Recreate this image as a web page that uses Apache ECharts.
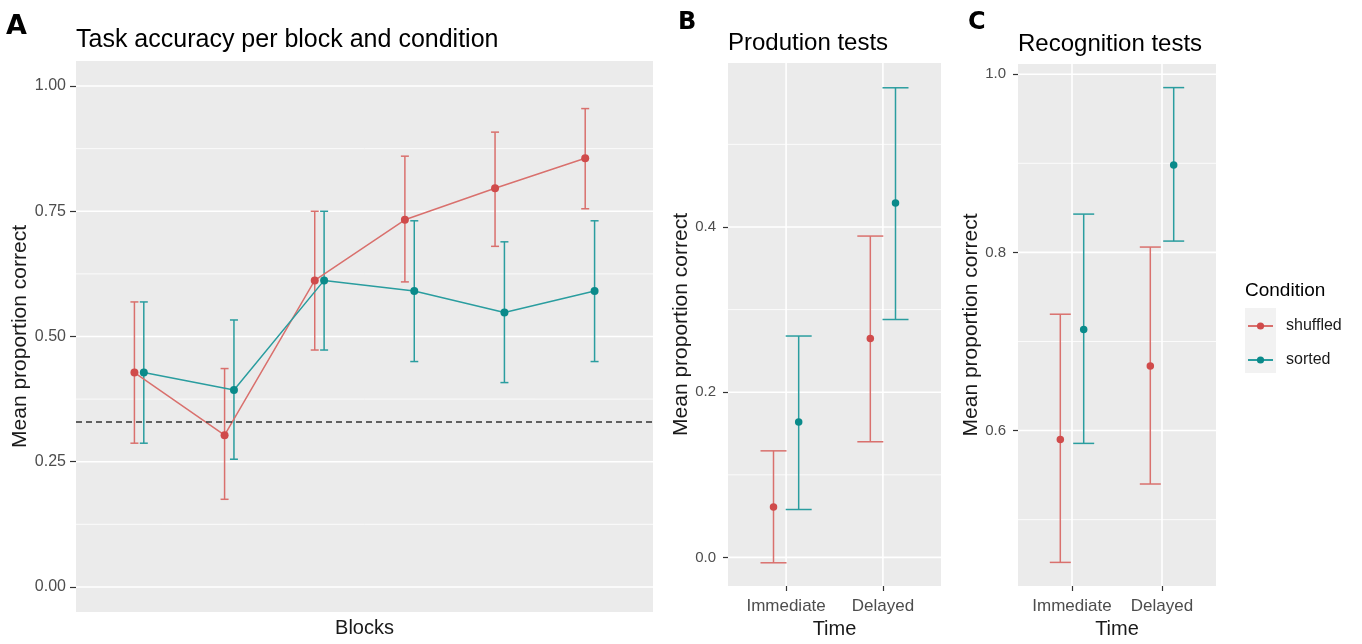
<!DOCTYPE html>
<html>
<head>
<meta charset="utf-8">
<script src="https://cdn.jsdelivr.net/npm/echarts@6/dist/echarts.min.js"></script>
<style>
html, body { margin: 0; padding: 0; background: #fff; }
#container { width: 1362px; height: 644px; }
</style>
</head>
<body>
<div id="container"></div>
<script>
// ---- data ----
var blocks = [1, 2, 3, 4, 5, 6];
var taskShuffledMean = [0.428, 0.303, 0.612, 0.733, 0.796, 0.856];
var taskShuffledLow  = [0.287, 0.175, 0.473, 0.609, 0.680, 0.755];
var taskShuffledHigh = [0.569, 0.436, 0.750, 0.860, 0.908, 0.955];
var taskSortedMean   = [0.428, 0.393, 0.612, 0.591, 0.548, 0.591];
var taskSortedLow    = [0.287, 0.255, 0.473, 0.450, 0.408, 0.450];
var taskSortedHigh   = [0.569, 0.533, 0.750, 0.731, 0.689, 0.731];
var chanceLevel = 1 / 3;

var times = ['Immediate', 'Delayed'];
var prodShuffledMean = [0.061, 0.265];
var prodShuffledLow  = [-0.0065, 0.140];
var prodShuffledHigh = [0.129, 0.389];
var prodSortedMean   = [0.164, 0.429];
var prodSortedLow    = [0.058, 0.288];
var prodSortedHigh   = [0.268, 0.5685];

var recShuffledMean = [0.590, 0.6725];
var recShuffledLow  = [0.452, 0.540];
var recShuffledHigh = [0.7306, 0.806];
var recSortedMean   = [0.7135, 0.898];
var recSortedLow    = [0.5856, 0.8127];
var recSortedHigh   = [0.843, 0.985];

var taskTicks = [0, 0.25, 0.5, 0.75, 1];
var taskMinor = [0.125, 0.375, 0.625, 0.875];
var prodTicks = [0, 0.2, 0.4];
var prodMinor = [0.1, 0.3, 0.5];
var recTicks = [0.6, 0.8, 1.0];
var recMinor = [0.5, 0.7, 0.9];
var timePos = [1, 2];

// ---- styling ----
var FONT = 'Liberation Sans';
var RED_LINE = '#D9706D', RED_PT = '#D04B4B';
var TEAL_LINE = '#2A9D9F', TEAL_PT = '#0A8A8A';
var dodgeA = 0.052, dodgeT = 0.13;

var dom = document.getElementById('container');
var myChart = echarts.init(dom);

function errorBar(capPx) {
    return function (params, api) {
        var x = api.value(0);
        var top = api.coord([x, api.value(2)]);
        var bot = api.coord([x, api.value(1)]);
        var h = capPx / 2;
        var st = { stroke: api.visual('color'), lineWidth: 1.5 };
        return {
            type: 'group',
            children: [
                { type: 'line', shape: { x1: top[0], y1: top[1], x2: bot[0], y2: bot[1] }, style: st },
                { type: 'line', shape: { x1: top[0] - h, y1: top[1], x2: top[0] + h, y2: top[1] }, style: st },
                { type: 'line', shape: { x1: bot[0] - h, y1: bot[1], x2: bot[0] + h, y2: bot[1] }, style: st }
            ]
        };
    };
}

function hGrid(width) {
    return function (params, api) {
        var cs = params.coordSys;
        var y = api.coord([0, api.value(0)])[1];
        return { type: 'line', shape: { x1: cs.x, y1: y, x2: cs.x + cs.width, y2: y },
                 style: { stroke: '#FFFFFF', lineWidth: width } };
    };
}
function vGrid(width) {
    return function (params, api) {
        var cs = params.coordSys;
        var x = api.coord([api.value(0), 0])[0];
        return { type: 'line', shape: { x1: x, y1: cs.y, x2: x, y2: cs.y + cs.height },
                 style: { stroke: '#FFFFFF', lineWidth: width } };
    };
}
function gridSeries(idx, vals, fn, width) {
    return {
        type: 'custom', xAxisIndex: idx, yAxisIndex: idx, z: 1, silent: true,
        renderItem: fn(width), data: vals.map(function (v) { return [v]; })
    };
}
function ebSeries(name, idx, xs, lo, hi, color, cap) {
    return {
        name: name, type: 'custom', xAxisIndex: idx, yAxisIndex: idx, z: 2,
        itemStyle: { color: color }, renderItem: errorBar(cap),
        data: xs.map(function (x, i) { return [x, lo[i], hi[i]]; })
    };
}
function ptSeries(name, idx, xs, ys, color) {
    return {
        name: name, type: 'scatter', xAxisIndex: idx, yAxisIndex: idx, z: 3,
        symbolSize: 7.5, itemStyle: { color: color, opacity: 1 },
        data: xs.map(function (x, i) { return [x, ys[i]]; })
    };
}

var yNameStyle = { fontFamily: FONT, fontSize: 21, color: '#1A1A1A' };
var xNameStyle = { fontFamily: FONT, fontSize: 20, color: '#1A1A1A' };
function yAxisCfg(idx, min, max, ticks, digits, gap) {
    return {
        type: 'value', gridIndex: idx, min: min, max: max,
        name: 'Mean proportion correct', nameLocation: 'middle', nameRotate: 90,
        nameGap: gap, nameTextStyle: yNameStyle,
        axisLine: { show: false },
        axisTick: { show: true, length: idx === 0 ? 6 : 5, customValues: ticks, lineStyle: { color: '#333', width: 1.2 } },
        axisLabel: { customValues: ticks, margin: idx === 0 ? 10 : 12, fontFamily: FONT, fontSize: idx === 0 ? 16 : 15,
                     color: '#4D4D4D', formatter: function (v) { return v.toFixed(digits); } },
        splitLine: { show: false }
    };
}
function xTimeCfg(idx) {
    return {
        type: 'value', gridIndex: idx, min: 0.4, max: 2.6,
        name: 'Time', nameLocation: 'middle', nameGap: 33, nameTextStyle: xNameStyle,
        axisLine: { show: false, onZero: false },
        axisTick: { show: true, length: 5, customValues: timePos, lineStyle: { color: '#333', width: 1.2 } },
        axisLabel: { customValues: timePos, margin: 12, fontFamily: FONT, fontSize: 17, color: '#4D4D4D',
                     formatter: function (v) { return times[Math.round(v) - 1]; } },
        splitLine: { show: false }
    };
}

var xsA_sh = blocks.map(function (b) { return b - dodgeA; });
var xsA_so = blocks.map(function (b) { return b + dodgeA; });
var xsT_sh = timePos.map(function (t) { return t - dodgeT; });
var xsT_so = timePos.map(function (t) { return t + dodgeT; });

var letterStyle = { fontFamily: 'DejaVu Sans', fontWeight: 'bold', color: '#000' };
option = {
    animation: false,
    backgroundColor: '#FFFFFF',
    title: [
        { text: 'A', left: 6, top: 13, padding: 0, textStyle: Object.assign({ fontSize: 27 }, letterStyle) },
        { text: 'Task accuracy per block and condition', left: 76, top: 28, padding: 0,
          textStyle: { fontFamily: FONT, fontWeight: 'normal', fontSize: 25, color: '#000' } },
        { text: 'B', left: 678, top: 11, padding: 0, textStyle: Object.assign({ fontSize: 24 }, letterStyle) },
        { text: 'Prodution tests', left: 728, top: 31, padding: 0,
          textStyle: { fontFamily: FONT, fontWeight: 'normal', fontSize: 24, color: '#000' } },
        { text: 'C', left: 968, top: 11, padding: 0, textStyle: Object.assign({ fontSize: 24 }, letterStyle) },
        { text: 'Recognition tests', left: 1018, top: 32, padding: 0,
          textStyle: { fontFamily: FONT, fontWeight: 'normal', fontSize: 24, color: '#000' } },
        { text: 'Condition', left: 1245, top: 281, padding: 0,
          textStyle: { fontFamily: FONT, fontWeight: 'normal', fontSize: 19, color: '#000' } }
    ],
    legend: {
        data: ['shuffled', 'sorted'],
        orient: 'vertical', left: 1247, top: 318, padding: 0,
        itemWidth: 25, itemHeight: 9, itemGap: 18,
        textStyle: { fontFamily: FONT, fontSize: 16, color: '#1A1A1A', padding: [0, 0, 0, 8] }
    },
    graphic: [
        { type: 'rect', left: 1245, top: 308, z: 0, shape: { width: 31, height: 65 }, style: { fill: '#F2F2F2' } }
    ],
    grid: [
        { left: 76, top: 61, width: 577, height: 551, show: true, backgroundColor: '#EBEBEB', borderWidth: 0, outerBoundsMode: 'none' },
        { left: 728, top: 63, width: 213, height: 523, show: true, backgroundColor: '#EBEBEB', borderWidth: 0, outerBoundsMode: 'none' },
        { left: 1018, top: 64, width: 198, height: 522, show: true, backgroundColor: '#EBEBEB', borderWidth: 0, outerBoundsMode: 'none' }
    ],
    xAxis: [
        {
            type: 'value', gridIndex: 0, min: 0.3, max: 6.7,
            name: 'Blocks', nameLocation: 'middle', nameGap: 6, nameTextStyle: xNameStyle,
            axisLine: { show: false, onZero: false }, axisTick: { show: false }, axisLabel: { show: false },
            splitLine: { show: false }
        },
        xTimeCfg(1),
        xTimeCfg(2)
    ],
    yAxis: [
        yAxisCfg(0, -0.05, 1.05, taskTicks, 2, 45),
        yAxisCfg(1, -0.0346, 0.5985, prodTicks, 1, 34),
        yAxisCfg(2, 0.4255, 1.0115, recTicks, 1, 34)
    ],
    series: [
        {
            name: 'shuffled', type: 'line', xAxisIndex: 0, yAxisIndex: 0, z: 3,
            symbol: 'circle', symbolSize: 8,
            itemStyle: { color: RED_PT }, lineStyle: { color: RED_LINE, width: 1.5 },
            data: xsA_sh.map(function (x, i) { return [x, taskShuffledMean[i]]; })
        },
        {
            name: 'sorted', type: 'line', xAxisIndex: 0, yAxisIndex: 0, z: 3,
            symbol: 'circle', symbolSize: 8,
            itemStyle: { color: TEAL_PT }, lineStyle: { color: TEAL_LINE, width: 1.5 },
            data: xsA_so.map(function (x, i) { return [x, taskSortedMean[i]]; }),
            markLine: {
                silent: true, symbol: 'none', label: { show: false },
                lineStyle: { color: '#333333', type: [6, 4], width: 1.5 },
                data: [{ yAxis: chanceLevel }]
            }
        },
        gridSeries(0, taskTicks, hGrid, 1.6),
        gridSeries(0, taskMinor, hGrid, 0.8),
        gridSeries(1, prodTicks, hGrid, 1.6),
        gridSeries(1, prodMinor, hGrid, 0.8),
        gridSeries(1, timePos, vGrid, 1.6),
        gridSeries(2, recTicks, hGrid, 1.6),
        gridSeries(2, recMinor, hGrid, 0.8),
        gridSeries(2, timePos, vGrid, 1.6),
        ebSeries('shuffled', 0, xsA_sh, taskShuffledLow, taskShuffledHigh, RED_LINE, 8),
        ebSeries('sorted', 0, xsA_so, taskSortedLow, taskSortedHigh, TEAL_LINE, 8),
        ebSeries('shuffled', 1, xsT_sh, prodShuffledLow, prodShuffledHigh, RED_LINE, 26),
        ebSeries('sorted', 1, xsT_so, prodSortedLow, prodSortedHigh, TEAL_LINE, 26),
        ptSeries('shuffled', 1, xsT_sh, prodShuffledMean, RED_PT),
        ptSeries('sorted', 1, xsT_so, prodSortedMean, TEAL_PT),
        ebSeries('shuffled', 2, xsT_sh, recShuffledLow, recShuffledHigh, RED_LINE, 21),
        ebSeries('sorted', 2, xsT_so, recSortedLow, recSortedHigh, TEAL_LINE, 21),
        ptSeries('shuffled', 2, xsT_sh, recShuffledMean, RED_PT),
        ptSeries('sorted', 2, xsT_so, recSortedMean, TEAL_PT)
    ]
};

if (option && typeof option === 'object') {
    myChart.setOption(option, true);
}
</script>
</body>
</html>
